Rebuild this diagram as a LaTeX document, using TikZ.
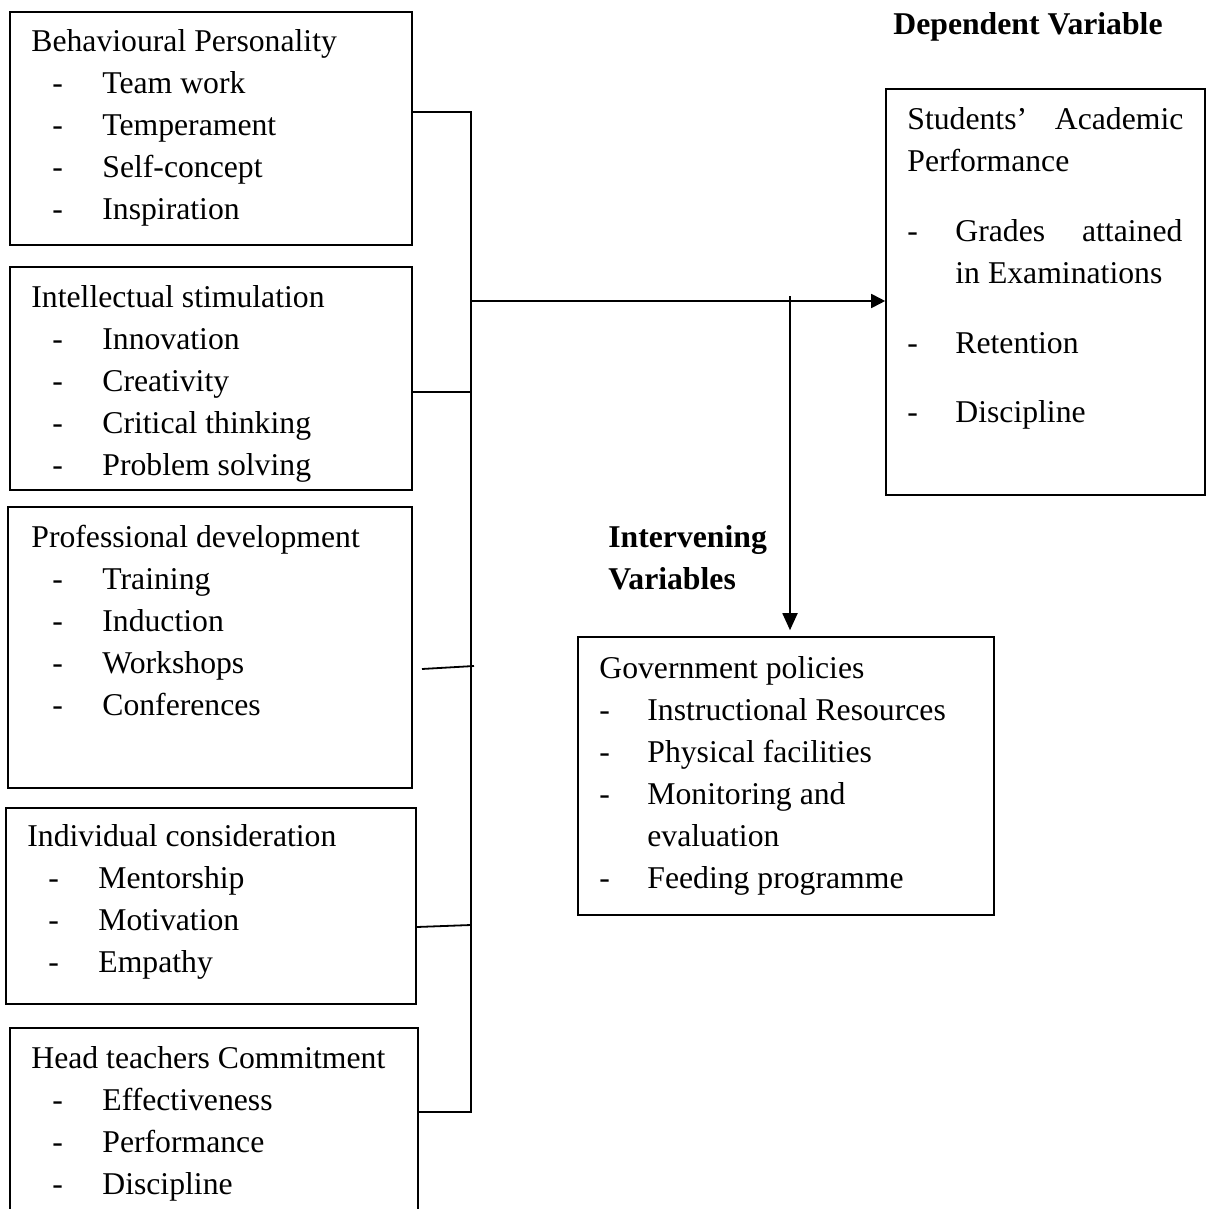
\documentclass[tikz,border=0pt]{standalone}
\usepackage{fontspec}
\setmainfont{Liberation Serif}
\usetikzlibrary{arrows.meta,fit}
\newcommand{\dl}[1]{\hspace*{10.5pt}\makebox[25pt][l]{-}#1}
\newcommand{\dr}[1]{\makebox[24pt][l]{-}#1}
\tikzset{
  box/.style={draw, line width=0.8pt, inner sep=0pt},
  txt/.style={anchor=base west, inner sep=0pt, font=\fontsize{15.85pt}{21pt}\selectfont},
  head/.style={anchor=base west, inner sep=0pt, font=\fontsize{15.85pt}{21pt}\selectfont\bfseries},
  link/.style={line width=0.9pt},
  arr/.style={line width=0.9pt, -{Triangle[length=7pt,width=7pt]}},
  arrv/.style={line width=0.9pt, -{Triangle[length=8.5pt,width=7.5pt]}, shorten >=3pt},
}
\begin{document}
\begin{tikzpicture}[x=0.5pt,y=-0.5pt]
\clip (0,0) rectangle (1208,1209);
% boxes
\node[box, fit={(10,12) (412,245)}] (b1) {};
\node[box, fit={(10,267) (412,490)}] (b2) {};
\node[box, fit={(8,507) (412,788)}] (b3) {};
\node[box, fit={(6,808) (416,1004)}] (b4) {};
\node[box, fit={(10,1028) (418,1240)}] (b5) {};
\node[box, fit={(886,89) (1205,495)}] (sap) {};
\node[box, fit={(578,637) (994,915)}] (gov) {};
% texts
\node[txt] (t1) at (31,52) {\parbox[t]{190pt}{Behavioural Personality\par
  \dl{Team work}\par \dl{Temperament}\par \dl{Self-concept}\par \dl{Inspiration}}};
\node[txt] (t2) at (31,307) {\parbox[t]{190pt}{Intellectual stimulation\par
  \dl{Innovation}\par \dl{Creativity}\par \dl{Critical thinking}\par \dl{Problem solving}}};
\node[txt] (t3) at (31,547) {\parbox[t]{190pt}{Professional development\par
  \dl{Training}\par \dl{Induction}\par \dl{Workshops}\par \dl{Conferences}}};
\node[txt] (t4) at (27,846) {\parbox[t]{190pt}{Individual consideration\par
  \dl{Mentorship}\par \dl{Motivation}\par \dl{Empathy}}};
\node[txt] (t5) at (31,1068) {\parbox[t]{190pt}{Head teachers Commitment\par
  \dl{Effectiveness}\par \dl{Performance}\par \dl{Discipline}}};
\node[txt] (tg) at (599,678) {\parbox[t]{200pt}{Government policies\par
  \dr{Instructional Resources}\par \dr{Physical facilities}\par \dr{Monitoring and}\par
  \hspace*{24pt}evaluation\par \dr{Feeding programme}}};
\node[txt] (ts) at (907,130) {\parbox[t]{140pt}{\makebox[138pt][s]{Students’ Academic}\par
  Performance\par\vspace{14pt}
  \makebox[24pt][l]{-}\makebox[113.5pt][s]{Grades attained}\par
  \hspace*{24pt}in Examinations\par\vspace{14pt}
  \dr{Retention}\par\vspace{13.5pt}
  \dr{Discipline}}};
\node[head] (hd) at (893,35) {Dependent Variable};
\node[head] (hi) at (608,547) {\parbox[t]{100pt}{Intervening\par Variables}};
% connectors
\coordinate (sTop) at (471,112);
\coordinate (sBot) at (471,1112);
\coordinate (j2) at (471,392);
\coordinate (c3a) at (422,669);
\coordinate (c3b) at (474,666);
\coordinate (c4) at (0,927);
\coordinate (j4) at (471,925);
\coordinate (j0) at (471,301);
\coordinate (v0) at (790,296);
\draw[link] (b1.east |- sTop) -- (sTop) -- (sBot) -- (b5.east |- sBot);
\draw[link] (b2.east |- j2) -- (j2);
\draw[link] (c3a) -- (c3b);
\draw[link] (b4.east |- c4) -- (j4);
\draw[arr] (j0) -- (sap.west |- j0);
\draw[arrv] (v0) -- (gov.north -| v0);
\end{tikzpicture}
\end{document}
